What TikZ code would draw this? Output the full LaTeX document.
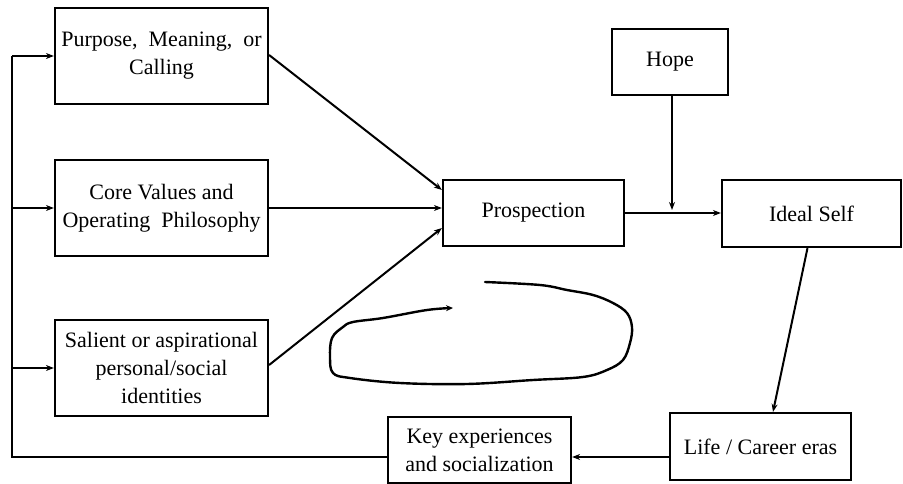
\documentclass[tikz,border=0pt]{standalone}
\usepackage{fontspec}
\setmainfont{Liberation Serif}
\usetikzlibrary{arrows.meta,calc}
\begin{document}
\begin{tikzpicture}[x=1pt,y=-1pt,
  box/.style={draw,line width=2.2pt,inner sep=0pt,align=center,font=\fontsize{22}{28}\selectfont},
  arr/.style={line width=2pt,-{Stealth[length=8pt,width=6pt]}},
  ln/.style={line width=2pt}]
\useasboundingbox (0,0) rectangle (903,484);
\node[box,minimum width=213,minimum height=96] (Purpose) at (161.5,56) {Purpose,\ \ Meaning,\ \ or\\Calling};
\node[box,minimum width=213,minimum height=96] (Core) at (161.5,208) {Core Values and\\Operating\ \ Philosophy};
\node[box,minimum width=213,minimum height=96] (Salient) at (161.5,368) {Salient or aspirational\\personal/social\\identities};
\node[box,minimum width=181,minimum height=66] (Prosp) at (533.5,213) {Prospection};
\node[box,minimum width=116,minimum height=66] (Hope) at (670,62) {Hope};
\node[box,minimum width=179,minimum height=67] (Ideal) at (811.5,213.5) {Ideal Self};
\node[box,minimum width=181,minimum height=67] (Life) at (760.5,446.5) {Life / Career eras};
\node[box,minimum width=183,minimum height=66] (Key) at (479.5,450) {Key experiences\\and socialization};
\coordinate (lowrow) at (0,457);
\coordinate (lx) at (12,457);
% left feedback line
\draw[ln] (Key.west |- lowrow) -- (lx) -- (lx |- Purpose.west);
\draw[arr] (lx |- Purpose.west) -- (Purpose.west);
\draw[arr] (lx |- Core.west) -- (Core.west);
\draw[arr] (lx |- Salient.west) -- (Salient.west);
% into prospection
\draw[arr] ([yshift=1pt]Purpose.east) -- ([yshift=23pt]Prosp.west);
\draw[arr] (Core.east) -- (Core.east -| Prosp.west);
\draw[arr] ([yshift=3pt]Salient.east) -- ([yshift=-15pt]Prosp.west);
% prospection to ideal self
\draw[arr] (Prosp.east) -- (Prosp.east -| Ideal.west);
\draw[arr] ([xshift=2pt]Hope.south) -- ([xshift=2pt,yshift=3pt]Hope.south |- Prosp.east);
% ideal self to life eras
\draw[arr] ([xshift=-4pt]Ideal.south) -- ([xshift=12.5pt]Life.north);
% life eras to key experiences
\draw[arr] (Life.west |- lowrow) -- (Key.east |- lowrow);
% hand-drawn loop
\draw[line width=2.4pt,line cap=round,-{Stealth[length=7pt,width=6pt]}] plot[smooth,tension=0.6] coordinates {
 (485,282) (540,285) (567,290) (593,295) (613,303) (627,313) (632,327) (630,343)
 (623,360) (607,370) (583,377) (533,380) (467,384) (400,383) (350,378) (333,373)
 (330,357) (332,338) (343,327) (353,322) (383,318) (427,310) (453,308)};
\end{tikzpicture}
\end{document}
